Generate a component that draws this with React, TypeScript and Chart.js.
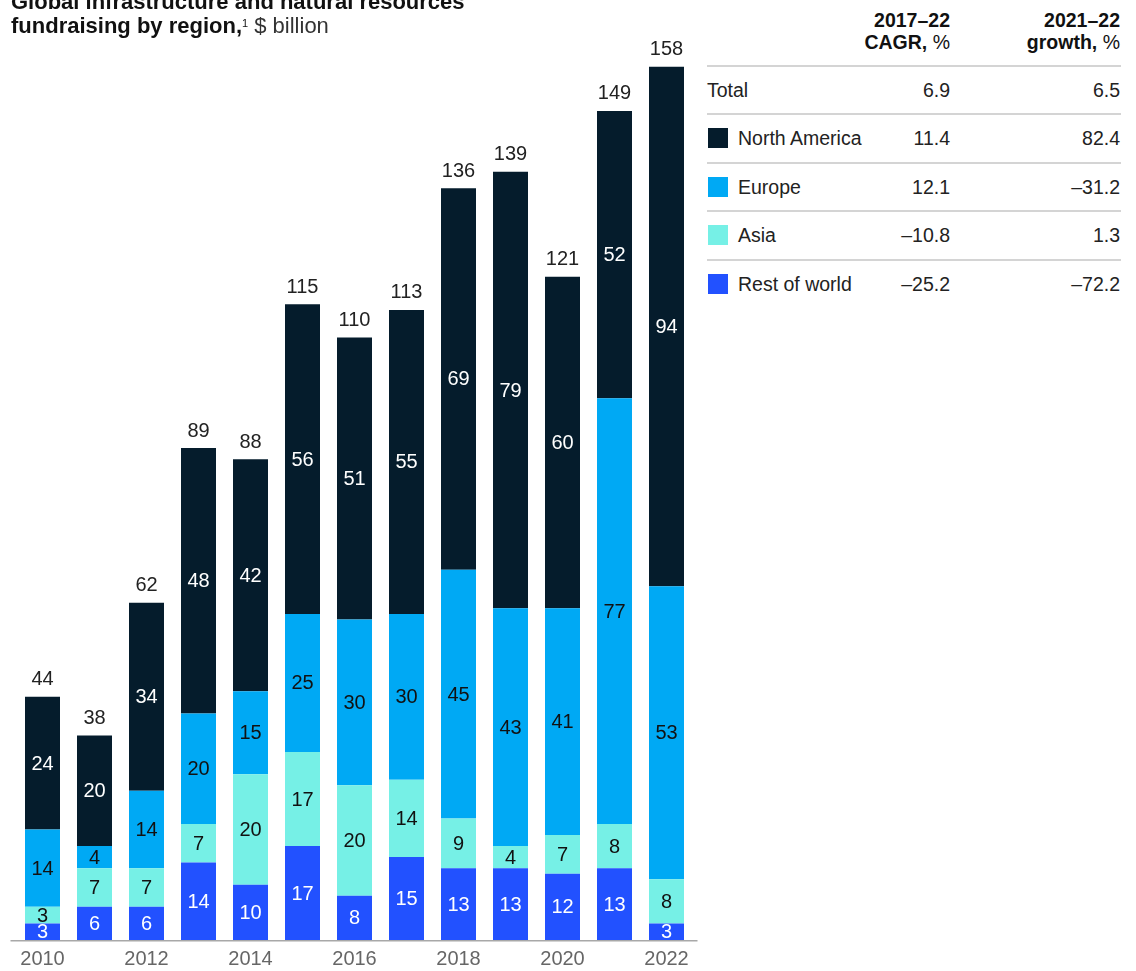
import React, { useEffect, useRef } from "react";
import { Chart, registerables } from "chart.js";

Chart.register(...registerables);

const years = ["2010", "2011", "2012", "2013", "2014", "2015", "2016", "2017", "2018", "2019", "2020", "2021", "2022"];
const restOfWorld = [3, 6, 6, 14, 10, 17, 8, 15, 13, 13, 12, 13, 3];
const asia = [3, 7, 7, 7, 20, 17, 20, 14, 9, 4, 7, 8, 8];
const europe = [14, 4, 14, 20, 15, 25, 30, 30, 45, 43, 41, 77, 53];
const northAmerica = [24, 20, 34, 48, 42, 56, 51, 55, 69, 79, 60, 52, 94];
const totals = [44, 38, 62, 89, 88, 115, 110, 113, 136, 139, 121, 149, 158];

const seriesNames = ["Rest of world", "Asia", "Europe", "North America"];
const seriesColors = ["#2251FF", "#76F0E6", "#00A9F4", "#051C2C"];
const labelColors = ["#ffffff", "#111111", "#111111", "#ffffff"];

const tableRows = ["Total", "North America", "Europe", "Asia", "Rest of world"];
const tableSwatches = [null, "#051C2C", "#00A9F4", "#76F0E6", "#2251FF"];
const cagr = ["6.9", "11.4", "12.1", "–10.8", "–25.2"];
const growth = ["6.5", "82.4", "–31.2", "1.3", "–72.2"];

const FONT = '"Liberation Sans", Arial, sans-serif';

const labelPlugin = {
  id: "segLabels",
  afterDatasetsDraw(chart: any) {
    const ctx = chart.ctx;
    ctx.save();
    ctx.font = `20px ${FONT}`;
    ctx.textAlign = "center";
    ctx.textBaseline = "middle";
    const n = chart.data.datasets.length;
    chart.data.datasets.forEach((ds: any, i: number) => {
      const meta = chart.getDatasetMeta(i);
      meta.data.forEach((bar: any, j: number) => {
        const p = bar.getProps(["x", "y", "base"], true);
        ctx.fillStyle = labelColors[i];
        ctx.fillText(String(ds.data[j]), p.x, (p.y + p.base) / 2 + 1);
      });
    });
    const topMeta = chart.getDatasetMeta(n - 1);
    topMeta.data.forEach((bar: any, j: number) => {
      const p = bar.getProps(["x", "y"], true);
      ctx.fillStyle = "#222222";
      ctx.fillText(String(totals[j]), p.x, p.y - 17);
    });
    const { left, right, bottom } = chart.chartArea;
    ctx.strokeStyle = "#a8a8a8";
    ctx.lineWidth = 1.5;
    ctx.beginPath();
    ctx.moveTo(left - 6, bottom + 0.75);
    ctx.lineTo(right + 5, bottom + 0.75);
    ctx.stroke();
    ctx.restore();
  },
};

function BarChart() {
  const ref = useRef<HTMLCanvasElement>(null);
  useEffect(() => {
    if (!ref.current) return;
    const chart = new Chart(ref.current, {
      type: "bar",
      data: {
        labels: years,
        datasets: [restOfWorld, asia, europe, northAmerica].map((d, i) => ({
          label: seriesNames[i],
          data: d,
          backgroundColor: seriesColors[i],
          borderWidth: 0,
          barPercentage: 0.673,
          categoryPercentage: 1,
        })),
      },
      options: {
        animation: false,
        responsive: false,
        maintainAspectRatio: false,
        layout: { padding: { left: 16.5, right: 7.5, top: 28, bottom: 0 } },
        plugins: { legend: { display: false }, tooltip: { enabled: false } },
        scales: {
          x: {
            stacked: true,
            grid: { display: false, drawTicks: false },
            border: { display: false },
            ticks: {
              autoSkip: false,
              maxRotation: 0,
              padding: 7,
              color: "#666666",
              font: { family: FONT, size: 20 },
              callback: (_v: any, i: number) => (i % 2 === 0 ? years[i] : ""),
            },
          },
          y: {
            stacked: true,
            display: false,
            min: 0,
            max: 165,
          },
        },
      },
      plugins: [labelPlugin],
    });
    return () => chart.destroy();
  }, []);
  return <canvas ref={ref} width={700} height={978} style={{ position: "absolute", left: 0, top: 0, width: 700, height: 978 }} />;
}

export default function App() {
  const lineYs = [66, 114, 163, 211, 260];
  return (
    <div style={{ position: "fixed", left: 0, top: 0, width: 1136, height: 971, overflow: "hidden", background: "#fff", fontFamily: FONT, color: "#222" }}>
      <BarChart />
      <div style={{ position: "absolute", left: 11, top: -10, fontSize: 22, lineHeight: "24px", color: "#111", whiteSpace: "nowrap" }}>
        <div style={{ fontWeight: 700 }}>Global infrastructure and natural resources</div>
        <div>
          <span style={{ fontWeight: 700 }}>fundraising by region,</span>
          <sup style={{ fontSize: 11, verticalAlign: "top", lineHeight: "18px" }}>1</sup>
          <span style={{ color: "#333" }}> $ billion</span>
        </div>
      </div>
      {/* table headers */}
      <div style={{ position: "absolute", left: 790, width: 160, top: 9, textAlign: "right", fontSize: 19.5, lineHeight: "22px", color: "#111" }}>
        <div style={{ fontWeight: 700 }}>2017–22</div>
        <div><span style={{ fontWeight: 700 }}>CAGR,</span> %</div>
      </div>
      <div style={{ position: "absolute", left: 960, width: 160, top: 9, textAlign: "right", fontSize: 19.5, lineHeight: "22px", color: "#111" }}>
        <div style={{ fontWeight: 700 }}>2021–22</div>
        <div><span style={{ fontWeight: 700 }}>growth,</span> %</div>
      </div>
      {lineYs.map((y, i) => (
        <React.Fragment key={i}>
          <div style={{ position: "absolute", left: 707, width: 414, top: y - 1, height: 1.5, background: "#d4d4d4" }} />
          <div style={{ position: "absolute", left: 707, width: 414, top: y, height: 48, display: "flex", alignItems: "center", fontSize: 19.5, color: "#222" }}>
            {tableSwatches[i] ? (
              <div style={{ width: 20, height: 20, background: tableSwatches[i] as string, marginLeft: 1, marginRight: 10 }} />
            ) : null}
            <div style={{ flex: "0 0 auto" }}>{tableRows[i]}</div>
          </div>
          <div style={{ position: "absolute", left: 790, width: 160, top: y, height: 48, display: "flex", alignItems: "center", justifyContent: "flex-end", fontSize: 19.5, color: "#222" }}>{cagr[i]}</div>
          <div style={{ position: "absolute", left: 960, width: 160, top: y, height: 48, display: "flex", alignItems: "center", justifyContent: "flex-end", fontSize: 19.5, color: "#222" }}>{growth[i]}</div>
        </React.Fragment>
      ))}
    </div>
  );
}
